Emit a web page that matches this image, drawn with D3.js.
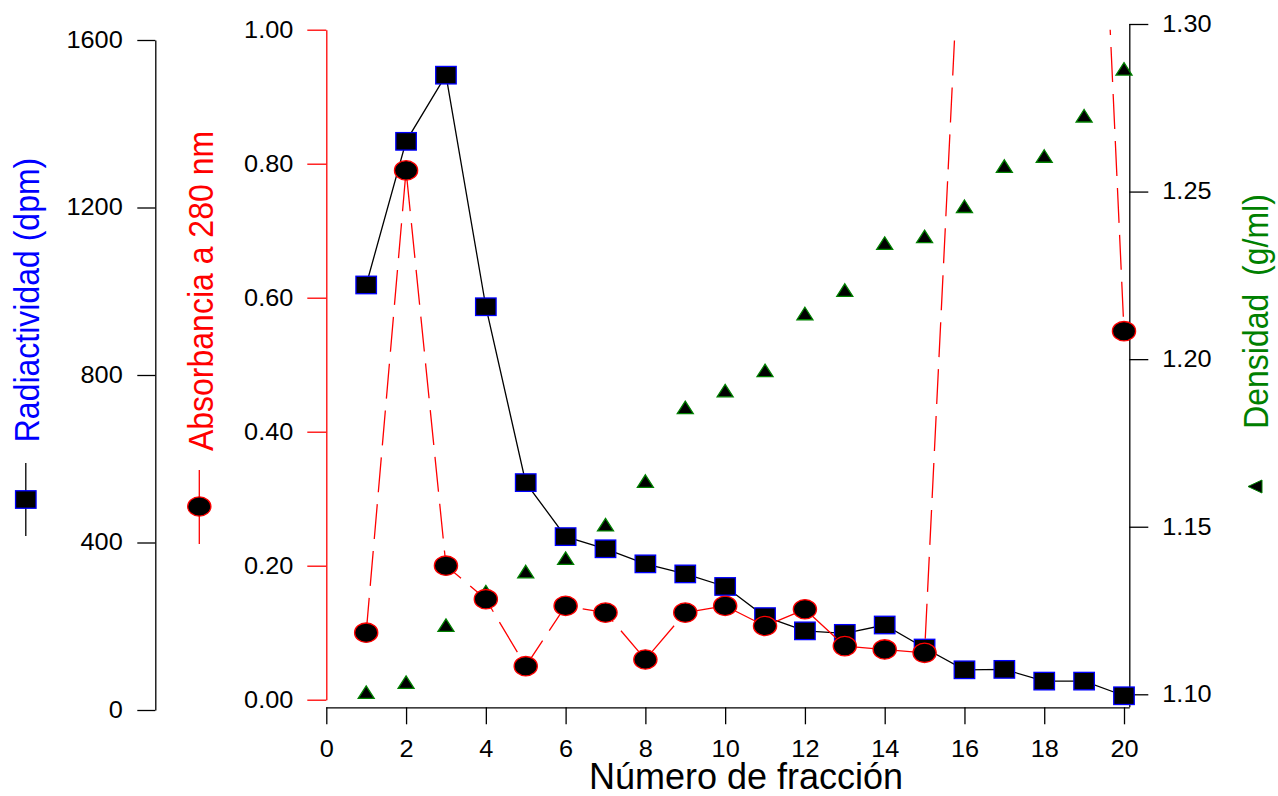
<!DOCTYPE html>
<html><head><meta charset="utf-8">
<script src="https://cdn.jsdelivr.net/npm/d3@7"></script>
<style>
body{margin:0;background:#fff}
svg{display:block}
text{font-family:"Liberation Sans",Arial,Helvetica,sans-serif}
</style>
</head><body>
<svg id="c" width="1278" height="796"></svg>
<script>
// ---- data ----
const fractions = [1,2,3,4,5,6,7,8,9,10,11,12,13,14,15,16,17,18,19,20];
const radioactivity = [1015,1358,1516,963,543,414,385,349,325,295,223,189,183,203,148,96,97,69,69,34];
const absorbance = [0.10,0.79,0.20,0.15,0.05,0.14,0.13,0.06,0.13,0.14,0.11,0.135,0.08,0.075,0.07,1.29,1.50,1.70,1.85,0.55];
const density = [1.100,1.103,1.120,1.130,1.136,1.140,1.150,1.163,1.185,1.190,1.196,1.213,1.220,1.234,1.236,1.245,1.257,1.260,1.272,1.286];
const xTicks = [0,2,4,6,8,10,12,14,16,18,20];
const radTicks = [0,400,800,1200,1600];
const absTicks = [0,0.2,0.4,0.6,0.8,1.0];
const denTicks = [1.10,1.15,1.20,1.25,1.30];
const xTitle = "Número de fracción";
const radTitle = "Radiactividad (dpm)";
const absTitle = "Absorbancia a 280 nm";
const denTitle = "Densidad  (g/ml)";

// ---- scales ----
const svg = d3.select("#c");
const x = d3.scaleLinear().domain([0,20]).range([326.3,1124]);
const yRad = d3.scaleLinear().domain([0,1600]).range([710,40]);
const yAbs = d3.scaleLinear().domain([0,1]).range([699.7,29.7]);
const yDen = d3.scaleLinear().domain([1.10,1.30]).range([694.3,24]);
const SX = 1.1;

function styleAxis(g, lineColor, fs){
  g.attr("font-size", fs).attr("font-family", null);
  g.selectAll(".tick line").attr("stroke", lineColor).attr("stroke-width", 1.3);
  g.selectAll(".tick text").attr("fill", "#000").attr("font-size", fs);
}

// left radioactivity axis
const gR = svg.append("g").attr("transform","translate(155.3,0)")
  .call(d3.axisLeft(yRad).tickValues(radTicks).tickSize(18).tickSizeOuter(0).tickFormat(d3.format("d")));
styleAxis(gR, "#000", 23);
gR.select(".domain").attr("stroke","#000").attr("stroke-width",1.3);
gR.selectAll(".tick text").attr("x", -32.6/SX).attr("transform",`scale(${SX},1)`);

// absorbance axis
const gA = svg.append("g").attr("transform","translate(326.3,0)")
  .call(d3.axisLeft(yAbs).tickValues(absTicks).tickSize(19).tickSizeOuter(0).tickFormat(d3.format(".2f")));
styleAxis(gA, "#ff0000", 23);
gA.select(".domain").attr("stroke","#ff0000").attr("stroke-width",1.3);
gA.selectAll(".tick text").attr("x", -33/SX).attr("transform",`scale(${SX},1)`);

// density axis (right)
const gD = svg.append("g").attr("transform","translate(1129.3,0)")
  .call(d3.axisRight(yDen).tickValues(denTicks).tickSize(19).tickSizeOuter(0).tickFormat(d3.format(".2f")));
styleAxis(gD, "#000", 23);
gD.select(".domain").remove();
gD.append("line").attr("x1",0.5).attr("x2",0.5).attr("y1",yDen(1.30)).attr("y2",707.3).attr("stroke","#000").attr("stroke-width",1.3);
gD.selectAll(".tick text").attr("x", 33/SX).attr("transform",`scale(${SX},1)`);

// x axis
const gX = svg.append("g").attr("transform","translate(0,707.3)")
  .call(d3.axisBottom(x).tickValues(xTicks).tickSize(17).tickPadding(24.5).tickFormat(d3.format("d")));
styleAxis(gX, "#000", 23);
gX.select(".domain").remove();
gX.selectAll(".tick text").attr("dy", "0.36em").attr("transform",`scale(${SX},1)`);
gX.append("line").attr("x1",x(0)).attr("x2",1129.8).attr("y1",0.5).attr("y2",0.5).attr("stroke","#000").attr("stroke-width",1.3);

// ---- density triangles ----
const TW = 16, TH = 12.5;
const triPath = `M0,${-2*TH/3}L${TW/2},${TH/3}L${-TW/2},${TH/3}Z`;
svg.append("g").selectAll("path").data(fractions).join("path")
  .attr("d", triPath)
  .attr("transform",(d,i)=>`translate(${x(d)},${yDen(density[i])})`)
  .attr("fill","#000").attr("stroke","#008000").attr("stroke-width",1.3);

// ---- radioactivity ----
const radData = fractions.map((f,i)=>({f, v: radioactivity[i]}));
svg.append("path").datum(radData)
  .attr("d", d3.line().x(d=>x(d.f)).y(d=>yRad(d.v)))
  .attr("fill","none").attr("stroke","#000").attr("stroke-width",1.3);
const SW = 20.5, SH = 17.5;
svg.append("g").selectAll("rect").data(radData).join("rect")
  .attr("x", d=>x(d.f)-SW/2).attr("y", d=>yRad(d.v)-SH/2)
  .attr("width", SW).attr("height", SH)
  .attr("fill","#000").attr("stroke","#0000ff").attr("stroke-width",1.3);

// ---- absorbance ----
svg.append("clipPath").attr("id","clipAbs").append("rect")
  .attr("x", 300).attr("y", yAbs(1)).attr("width", 860).attr("height", 720 - yAbs(1));
const absData = fractions.map((f,i)=>({f, v: absorbance[i]}));
svg.append("path").datum(absData)
  .attr("clip-path","url(#clipAbs)")
  .attr("d", d3.line().x(d=>x(d.f)).y(d=>yAbs(d.v)))
  .attr("fill","none").attr("stroke","#ff0000").attr("stroke-width",1.3)
  .attr("stroke-dasharray","35,12");
svg.append("g").selectAll("ellipse").data(absData.filter(d=>d.v<=1)).join("ellipse")
  .attr("cx", d=>x(d.f)).attr("cy", d=>yAbs(d.v))
  .attr("rx", 11.6).attr("ry", 9.7)
  .attr("fill","#000").attr("stroke","#ff0000").attr("stroke-width",1.3);

// ---- titles ----
svg.append("text").attr("x", 746).attr("y", 789).attr("text-anchor","middle")
  .attr("font-size", 36).attr("fill","#000").text(xTitle);

function vTitle(bx, cy, txt, color){
  svg.append("text").attr("transform",`translate(${bx},${cy}) scale(1.12,1) rotate(-90)`)
    .attr("text-anchor","middle").attr("font-size",32).attr("fill",color)
    .style("white-space","pre").text(txt);
}
vTitle(38.5, 300, radTitle, "#0000ff");
vTitle(212.5, 291, absTitle, "#ff0000");
vTitle(1268, 311.5, denTitle, "#008000");

// ---- legend symbols ----
svg.append("line").attr("x1",25.8).attr("x2",25.8).attr("y1",463).attr("y2",536).attr("stroke","#000").attr("stroke-width",1.3);
svg.append("rect").attr("x",25.8-SW/2).attr("y",499.5-SH/2).attr("width",SW).attr("height",SH)
  .attr("fill","#000").attr("stroke","#0000ff").attr("stroke-width",1.3);
svg.append("line").attr("x1",199.3).attr("x2",199.3).attr("y1",470).attr("y2",544).attr("stroke","#ff0000").attr("stroke-width",1.3);
svg.append("ellipse").attr("cx",199.3).attr("cy",506.5).attr("rx",11.6).attr("ry",9.7)
  .attr("fill","#000").attr("stroke","#ff0000").attr("stroke-width",1.3);
svg.append("path").attr("d", `M-7,0L7,-6.5L7,6.5Z`).attr("transform","translate(1255,486.5)")
  .attr("fill","#000").attr("stroke","#008000").attr("stroke-width",1);
</script>
</body></html>
